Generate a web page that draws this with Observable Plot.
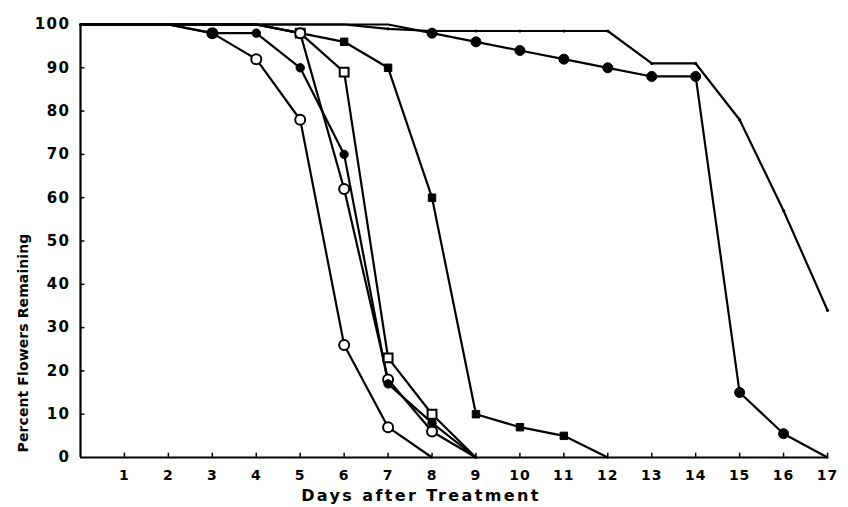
<!DOCTYPE html>
<html>
<head>
<meta charset="utf-8">
<script src="https://cdn.jsdelivr.net/npm/d3@7"></script>
<script src="https://cdn.jsdelivr.net/npm/@observablehq/plot@0.6"></script>
<style>
  body { margin: 0; background: #fff; }
  #chart svg { display: block; }
</style>
</head>
<body>
<div id="chart"></div>
<script>
// ---- data ----
const days = [0,1,2,3,4,5,6,7,8,9,10,11,12,13,14,15,16,17];
const xTicks = [1,2,3,4,5,6,7,8,9,10,11,12,13,14,15,16,17];
const yTicks = [0,10,20,30,40,50,60,70,80,90,100];

const openCircleA  = [100,100,100,98,92,78,26,7,0];
const filledCircle = [100,100,100,98,98,90,70,17,8,0];
const openSquare   = [100,100,100,100,100,98,89,23,10,0];
const openCircleB  = [100,100,100,100,100,98,62,18,6,0];
const filledSquare = [100,100,100,100,100,98,96,90,60,10,7,5,0];
const darkCircle   = [100,100,100,100,100,100,100,100,98,96,94,92,90,88,88,15,5.5,0];
const plainLine    = [100,100,100,100,100,100,100,99,98.5,98.5,98.5,98.5,98.5,91,91,78,57,34];

const xTitle = "Days after Treatment";
const yTitle = "Percent Flowers Remaining";

// ---- build table ----
const series = [
  {name: "plain",        values: plainLine,    symbol: "circle", fill: "black", r: 1.6, sw: 0},
  {name: "darkCircle",   values: darkCircle,   symbol: "circle", fill: "black", r: 5.0, sw: 1},
  {name: "filledSquare", values: filledSquare, symbol: "square", fill: "black", r: 4.2, sw: 1},
  {name: "openSquare",   values: openSquare,   symbol: "square", fill: "white", r: 5.0, sw: 2},
  {name: "openCircleB",  values: openCircleB,  symbol: "circle", fill: "white", r: 5.0, sw: 2},
  {name: "openCircleA",  values: openCircleA,  symbol: "circle", fill: "white", r: 5.0, sw: 2},
  {name: "filledCircle", values: filledCircle, symbol: "circle", fill: "black", r: 4.2, sw: 1}
];
const rows = series.flatMap(s => s.values.map((v, i) => ({series: s.name, day: days[i], pct: v})));

const dotMarks = series.map(s =>
  Plot.dot(rows.filter(d => d.series === s.name && d.pct > 0 && d.pct < 100), {
    x: "day", y: "pct", symbol: s.symbol, r: s.r,
    fill: s.fill, stroke: "black", strokeWidth: s.sw
  })
);

const chart = Plot.plot({
  width: 848,
  height: 507,
  marginLeft: 80,
  marginRight: 21,
  marginTop: 24,
  marginBottom: 50,
  style: {fontFamily: "DejaVu Sans", color: "black", background: "white"},
  x: {domain: [0, 17]},
  y: {domain: [0, 100]},
  marks: [
    Plot.axisY(yTicks, {tickSize: 0, tickPadding: 10, fontSize: 15, fontWeight: "bold", label: null}),
    Plot.axisX(xTicks, {tickSize: 0, tickPadding: 13, fontSize: 14, fontWeight: "bold", label: null}),
    Plot.ruleY(yTicks.filter(t => t > 0 && t < 100), {y: d => d, x1: 0, x2: 0.1, stroke: "black", strokeWidth: 1.5}),
    Plot.ruleX(xTicks, {x: d => d, y1: 0, y2: 1, stroke: "black", strokeWidth: 1.5}),
    Plot.ruleX([0], {stroke: "black", strokeWidth: 2.2}),
    Plot.ruleY([0], {stroke: "black", strokeWidth: 2.2}),
    Plot.line(rows, {x: "day", y: "pct", z: "series", stroke: "black", strokeWidth: 2.2, strokeLinejoin: "round"}),
    ...dotMarks,
    Plot.text([yTitle], {frameAnchor: "left", rotate: -90, dx: -57, dy: 102, textAnchor: "middle", lineAnchor: "middle", fontSize: 14, fontWeight: "bold"}),
    Plot.text([xTitle], {frameAnchor: "bottom", dx: -33, dy: 38, textAnchor: "middle", lineAnchor: "middle", fontSize: 16, fontWeight: "bold"})
  ]
});

const svg = d3.select(chart);
svg.selectAll('g[aria-label="text"] text').attr("letter-spacing", "0.1px");
svg.selectAll('g[aria-label="text"] text').filter(function() { return this.textContent === xTitle; }).attr("letter-spacing", "2.4px");
svg.selectAll('g[aria-label="y-axis tick label"] text').attr("letter-spacing", "1.5px");
svg.selectAll('g[aria-label="x-axis tick label"] text').attr("letter-spacing", "1px");
document.getElementById("chart").appendChild(chart);
</script>
</body>
</html>
